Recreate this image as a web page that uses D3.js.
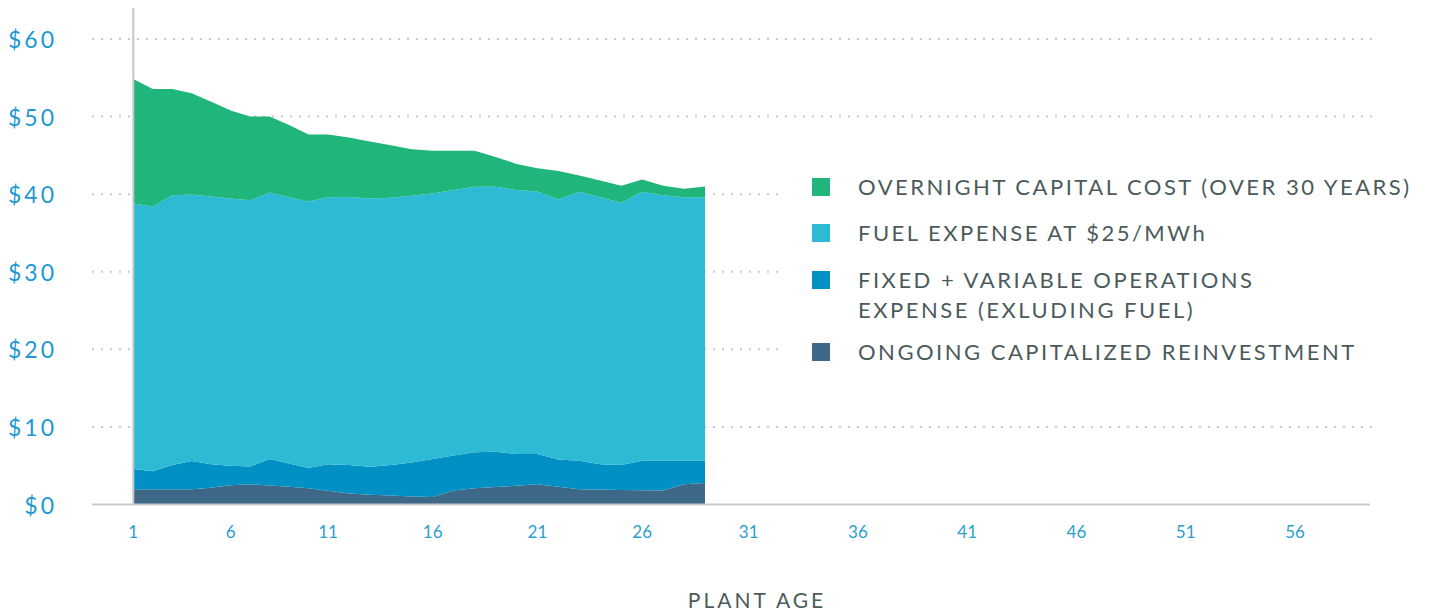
<!DOCTYPE html>
<html>
<head>
<meta charset="utf-8">
<script src="https://cdn.jsdelivr.net/npm/d3@7"></script>
<style>
  body { margin: 0; background: #fff; }
  svg { display: block; font-family: Lato, "Open Sans", sans-serif; }
</style>
</head>
<body>
<script>
// plant age, one point per year
const ages = [1, 2, 3, 4, 5, 6, 7, 8, 9, 10, 11, 12, 13, 14, 15, 16, 17, 18, 19, 20, 21, 22, 23, 24, 25, 26, 27, 28, 29];
// $/MWh per component (bottom to top of the stack)
const reinvestment = [1.98, 1.98, 1.98, 1.98, 2.16, 2.47, 2.6, 2.45, 2.28, 2.09, 1.77, 1.42, 1.27, 1.16, 1.04, 0.98, 1.82, 2.1, 2.27, 2.41, 2.6, 2.3, 1.97, 1.92, 1.88, 1.84, 1.8, 2.6, 2.76];
const operations = [2.58, 2.29, 3.12, 3.62, 3.04, 2.53, 2.3, 3.4, 3.02, 2.61, 3.43, 3.68, 3.58, 3.94, 4.36, 4.87, 4.48, 4.65, 4.53, 4.09, 3.9, 3.5, 3.66, 3.28, 3.22, 3.79, 3.83, 3.03, 2.87];
const fuel = [34.24, 34.13, 34.75, 34.36, 34.5, 34.45, 34.3, 34.35, 34.3, 34.35, 34.4, 34.55, 34.6, 34.45, 34.4, 34.25, 34.25, 34.2, 34.15, 34.05, 33.85, 33.5, 34.67, 34.4, 33.8, 34.67, 34.22, 33.97, 33.97];
const capital = [16.05, 15.16, 13.71, 13.04, 12.2, 11.35, 10.8, 9.8, 9.3, 8.65, 8.1, 7.65, 7.35, 6.75, 6.0, 5.5, 5.05, 4.65, 3.85, 3.35, 3.0, 3.7, 2.1, 2.15, 2.2, 1.6, 1.25, 1.1, 1.4];

const yTicks = [0, 10, 20, 30, 40, 50, 60];
const xTicks = [1, 6, 11, 16, 21, 26, 31, 36, 41, 46, 51, 56];

const seriesKeys = ["reinvestment", "operations", "fuel", "capital"];
const colors = { capital: "#20b57a", fuel: "#2cbad5", operations: "#0090c4", reinvestment: "#3e6888" };
const legendItems = [
  { key: "capital", lines: ["OVERNIGHT CAPITAL COST (OVER 30 YEARS)"] },
  { key: "fuel", lines: ["FUEL EXPENSE AT $25/MWh"] },
  { key: "operations", lines: ["FIXED + VARIABLE OPERATIONS", "EXPENSE (EXLUDING FUEL)"] },
  { key: "reinvestment", lines: ["ONGOING CAPITALIZED REINVESTMENT"] }
];

const width = 1430, height = 613;
const gridLeft = 92, gridRight = 1372;

const rows = ages.map((a, i) => ({
  age: a,
  reinvestment: reinvestment[i],
  operations: operations[i],
  fuel: fuel[i],
  capital: capital[i]
}));

const svg = d3.select("body").append("svg").attr("width", width).attr("height", height);

const x = d3.scaleLinear().domain([1, 11, 29, 56]).range([133.3, 328, 705, 1295]);
const y = d3.scaleLinear().domain([0, 60]).range([504.5, 39]);

// dotted grid
svg.append("g")
  .selectAll("line")
  .data(yTicks.filter(d => d > 0))
  .join("line")
  .attr("x1", gridLeft).attr("x2", gridRight)
  .attr("y1", d => y(d)).attr("y2", d => y(d))
  .attr("stroke", "#c9c9c9")
  .attr("stroke-width", 2)
  .attr("stroke-dasharray", "2,7");

// stacked areas
const stacked = d3.stack().keys(seriesKeys)(rows);
const area = d3.area()
  .x(d => x(d.data.age))
  .y0(d => y(d[0]))
  .y1(d => y(d[1]));

svg.append("g")
  .selectAll("path")
  .data(stacked)
  .join("path")
  .attr("fill", d => colors[d.key])
  .attr("d", area);

// axis lines
svg.append("line")
  .attr("x1", x(1)).attr("x2", x(1))
  .attr("y1", y(64)).attr("y2", y(0))
  .attr("stroke", "#c6c7cd").attr("stroke-width", 2);
svg.append("line")
  .attr("x1", gridLeft).attr("x2", 1370)
  .attr("y1", y(0)).attr("y2", y(0))
  .attr("stroke", "#c8c9ce").attr("stroke-width", 2);

// y labels
svg.append("g")
  .selectAll("text")
  .data(yTicks)
  .join("text")
  .attr("x", 57)
  .attr("y", d => y(d) + 1)
  .attr("dy", "0.35em")
  .attr("text-anchor", "end")
  .attr("fill", "#1d98d3")
  .attr("font-size", 23)
  .attr("letter-spacing", 3)
  .text(d => "$" + d);

// x labels
svg.append("g")
  .selectAll("text")
  .data(xTicks)
  .join("text")
  .attr("x", d => x(d))
  .attr("y", 538)
  .attr("text-anchor", "middle")
  .attr("fill", "#2a9fd0")
  .attr("font-size", 17)
  .text(d => d);

svg.append("text")
  .attr("x", 757).attr("y", 608)
  .attr("text-anchor", "middle")
  .attr("fill", "#4b5b5c")
  .attr("font-size", 21)
  .attr("letter-spacing", 3)
  .text("PLANT AGE");

// legend, on a white box that hides the grid behind it
const legend = svg.append("g");
legend.append("rect")
  .attr("x", 785).attr("y", 160)
  .attr("width", width - 785).attr("height", 212)
  .attr("fill", "#fff");

const legendY = [187, 233, 280, 352];
legendItems.forEach((item, i) => {
  const row = legend.append("g").attr("transform", "translate(0," + legendY[i] + ")");
  row.append("rect")
    .attr("x", 812).attr("y", -9)
    .attr("width", 18).attr("height", 18)
    .attr("fill", colors[item.key]);
  row.append("text")
    .attr("x", 858)
    .attr("fill", "#4b5b5c")
    .attr("font-size", 22)
    .attr("letter-spacing", 2.5)
    .selectAll("tspan")
    .data(item.lines)
    .join("tspan")
    .attr("x", 858)
    .attr("y", (d, j) => j * 30)
    .attr("dy", "0.36em")
    .text(d => d);
});
</script>
</body>
</html>
